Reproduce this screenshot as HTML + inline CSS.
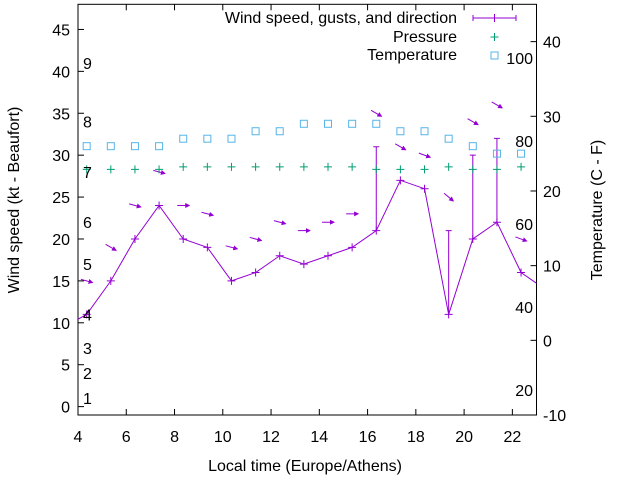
<!DOCTYPE html>
<html><head><meta charset="utf-8"><style>
html,body{margin:0;padding:0;background:#fff;}
svg{display:block;font-family:"Liberation Sans",sans-serif;}
</style></head><body>
<svg id="chart" width="640" height="480" viewBox="0 0 640 480">
<rect width="640" height="480" fill="#fff"/>
<defs><clipPath id="clip"><rect x="78" y="4.3" width="458.5" height="410.7"/></clipPath>
<marker id="ah" markerWidth="5" markerHeight="5" refX="4" refY="2.5" orient="auto" markerUnits="userSpaceOnUse"><path d="M0,0 L5,2.5 L0,5 z" fill="#9400d3"/></marker></defs>
<g id="grid"></g>
<g id="marks" clip-path="url(#clip)"></g>
<g id="labels"></g>
</svg>
<script>
const hours = [3.36,4.36,5.36,6.36,7.36,8.36,9.36,10.36,11.36,12.36,13.36,14.36,15.36,16.36,17.36,18.36,19.36,20.36,21.36,22.36,23.36];
const windKt = [9.4,11,15,20,24,20,19,15,16,18,17,18,19,21,27,26,11,20,22,16,14];
const gustKt = [null,null,null,null,null,null,null,null,null,null,null,null,null,31,null,null,21,30,32,null,null];
const dirDeg = [285,285,300,285,285,270,285,285,285,285,270,270,270,300,300,290,310,300,300,290,285];
const pressHours = [4.36,5.36,6.36,7.36,8.36,9.36,10.36,11.36,12.36,13.36,14.36,15.36,16.36,17.36,18.36,19.36,20.36,21.36,22.36];
const pressure = [28.3,28.3,28.3,28.3,28.6,28.6,28.6,28.6,28.6,28.6,28.6,28.6,28.3,28.3,28.3,28.6,28.3,28.3,28.6];
const tempC = [26,26,26,26,27,27,27,28,28,29,29,29,29,28,28,27,26,25,25];
const xTicks = [4,6,8,10,12,14,16,18,20,22];
const yTicks = [0,5,10,15,20,25,30,35,40,45];
const y2Ticks = [-10,0,10,20,30,40];
const beaufortKt = [1,4,7,11,17,22,28,34,41];
const beaufortLbl = ["1","2","3","4","5","6","7","8","9"];
const fahrenheit = [20,40,60,80,100];

const L=78,R=536.5,T=4.3,B=415;
const X=h=>L+(h-4)*(R-L)/19;
const Y=v=>B-(v+1)*(B-T)/49;
const Y2=v=>B-(v+10)*(B-T)/55;
const NS='http://www.w3.org/2000/svg';
function mk(tag,attrs,parent,text){const e=document.createElementNS(NS,tag);for(const k in attrs)e.setAttribute(k,attrs[k]);if(text!==undefined)e.textContent=text;document.getElementById(parent).appendChild(e);return e;}
const P='#9400d3';

let e=mk('rect',{x:L,y:T,width:R-L,height:B-T,fill:'none',stroke:'#000','stroke-width':1},'grid');

xTicks.forEach(t=>{const x=X(t);
 mk('line',{x1:x,x2:x,y1:B,y2:B-6,stroke:'#000'},'grid');
 mk('line',{x1:x,x2:x,y1:T,y2:T+6,stroke:'#000'},'grid');
 e=mk('text',{x:x,y:B+27,'text-anchor':'middle','font-size':16},'labels',String(t));
 });
yTicks.forEach(t=>{const y=Y(t);
 mk('line',{x1:L,x2:L+6,y1:y,y2:y,stroke:'#000'},'grid');
 e=mk('text',{x:70,y:y+6,'text-anchor':'end','font-size':16},'labels',String(t));
 });
y2Ticks.forEach(t=>{const y=Y2(t);
 mk('line',{x1:R,x2:R-6,y1:y,y2:y,stroke:'#000'},'grid');
 e=mk('text',{x:543,y:y+6,'text-anchor':'start','font-size':16},'labels',String(t));
 });
beaufortKt.forEach((k,i)=>{e=mk('text',{x:83,y:Y(k)+6,'font-size':16},'labels',beaufortLbl[i]);
 });
fahrenheit.forEach(f=>{e=mk('text',{x:533,y:Y2((f-32)*5/9)+6,'text-anchor':'end','font-size':16},'labels',String(f));
 });

e=mk('polyline',{points:hours.map((h,i)=>X(h)+','+Y(windKt[i])).join(' '),fill:'none',stroke:P,'stroke-width':1},'marks');

hours.forEach((h,i)=>{const x=X(h),y=Y(windKt[i]);
 e=mk('path',{d:`M${x-4},${y}H${x+4}M${x},${y-4}V${y+4}`,stroke:P},'marks');
 
 const g=gustKt[i];
 if(g!==null){const yg=Y(g);
  e=mk('path',{d:`M${x},${y}V${yg}M${x-3},${yg}H${x+3}`,stroke:P},'marks');
  }
 const top=Y(Math.max(windKt[i],g||0)+4);
 const a=(dirDeg[i]-180)*Math.PI/180;
 const dx=Math.sin(a)*6,dy=-Math.cos(a)*6;
 e=mk('line',{x1:x-dx,y1:top-dy,x2:x+dx,y2:top+dy,stroke:P,'marker-end':'url(#ah)'},'marks');
 
});
pressHours.forEach((h,i)=>{const x=X(h),y=Y(pressure[i]);
 e=mk('path',{d:`M${x-4},${y}H${x+4}M${x},${y-4}V${y+4}`,stroke:'#009e73'},'marks');
 
 const yt=Y2(tempC[i]);
 e=mk('rect',{x:x-3.5,y:yt-3.5,width:7,height:7,fill:'none',stroke:'#56b4e9'},'marks');
 
});

e=mk('text',{x:457,y:23,'text-anchor':'end','font-size':16},'labels','Wind speed, gusts, and direction');

mk('path',{d:'M473,18H516M473,15V21M516,15V21M494.5,14V22',stroke:P},'labels');
e=mk('text',{x:457,y:42,'text-anchor':'end','font-size':16},'labels','Pressure');

mk('path',{d:'M490.5,37H498.5M494.5,33V41',stroke:'#009e73'},'labels');
e=mk('text',{x:457,y:60,'text-anchor':'end','font-size':16},'labels','Temperature');

mk('rect',{x:491,y:52,width:7,height:7,fill:'none',stroke:'#56b4e9'},'labels');

e=mk('text',{x:0,y:0,'text-anchor':'middle','font-size':16,transform:'translate(19,200) rotate(-90)'},'labels','Wind speed (kt - Beaufort)');

e=mk('text',{x:0,y:0,'text-anchor':'middle','font-size':16,transform:'translate(602,210) rotate(-90)'},'labels','Temperature (C - F)');

e=mk('text',{x:305,y:471,'text-anchor':'middle','font-size':16},'labels','Local time (Europe/Athens)');

</script>
</body></html>
